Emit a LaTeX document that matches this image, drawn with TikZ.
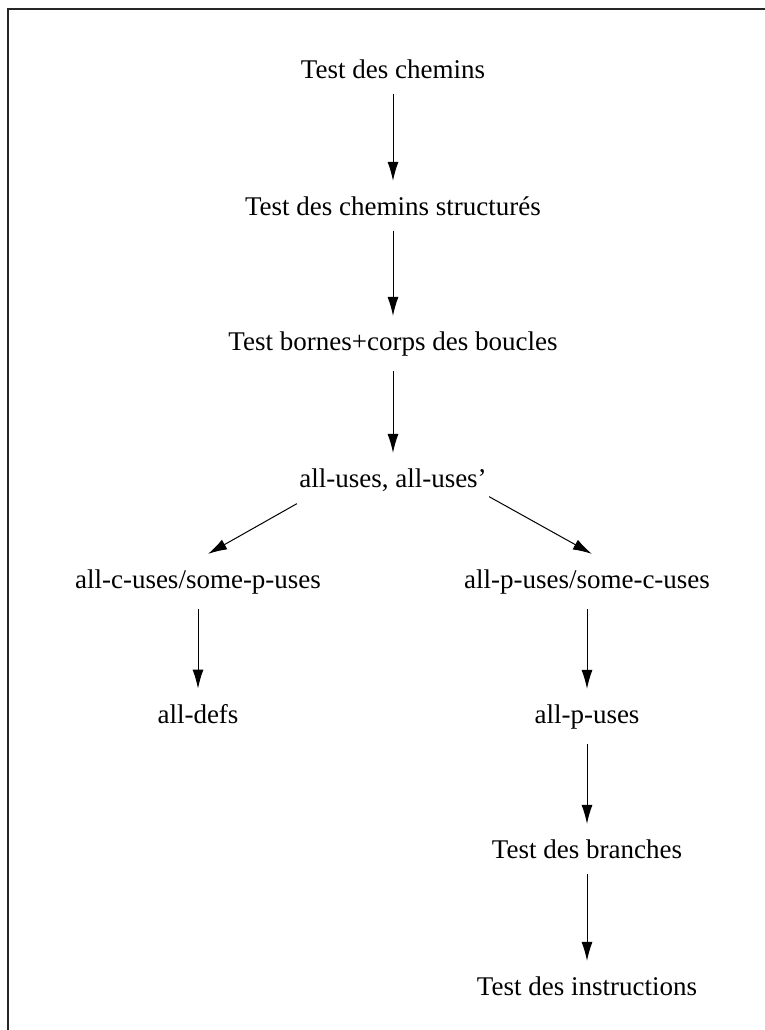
\documentclass[tikz,border=0pt]{standalone}
\usepackage{fontspec}
\setmainfont{Liberation Serif}
\usetikzlibrary{arrows.meta}
\begin{document}
\begin{tikzpicture}[
x=0.5pt, y=-0.5pt,
Crit/.style={anchor=base, inner xsep=1pt, inner ysep=7.5pt, font=\fontsize{13.5}{16}\selectfont},
Fleche/.style={-{Latex[length=9.5pt, width=5.5pt]}, line width=0.5pt},
Cadre/.style={draw=black!85, line width=0.75pt}
]
\useasboundingbox (0,0) rectangle (765,1030);
\draw[Cadre] (8,1030) -- (8,9) -- (765,9);

% colonne du haut
\node[Crit] (chemins) at (393,78) {Test des chemins};
\node[Crit] (structures) at (393,215) {Test des chemins structurés};
\node[Crit] (boucles) at (393,350) {Test bornes+corps des boucles};
\node[Crit] (alluses) at (393,487) {all-uses, all-uses'};

% les deux branches
\node[Crit] (cuses) at (198,588) {all-c-uses/some-p-uses};
\node[Crit] (puses) at (587,588) {all-p-uses/some-c-uses};
\node[Crit] (alldefs) at (198,723) {all-defs};
\node[Crit] (allpuses) at (587,723) {all-p-uses};
\node[Crit] (branches) at (587,858) {Test des branches};
\node[Crit] (instructions) at (587,995) {Test des instructions};

\draw[Fleche] (chemins) -- (structures);
\draw[Fleche] (structures) -- (boucles);
\draw[Fleche] (boucles) -- (alluses);
\draw[Fleche] (alluses.194) -- (cuses.70);
\draw[Fleche] (alluses.350) -- (puses.80);
\draw[Fleche] (cuses) -- (alldefs);
\draw[Fleche] (puses) -- (allpuses);
\draw[Fleche] (allpuses) -- (branches);
\draw[Fleche] (branches) -- (instructions);

\end{tikzpicture}
\end{document}
